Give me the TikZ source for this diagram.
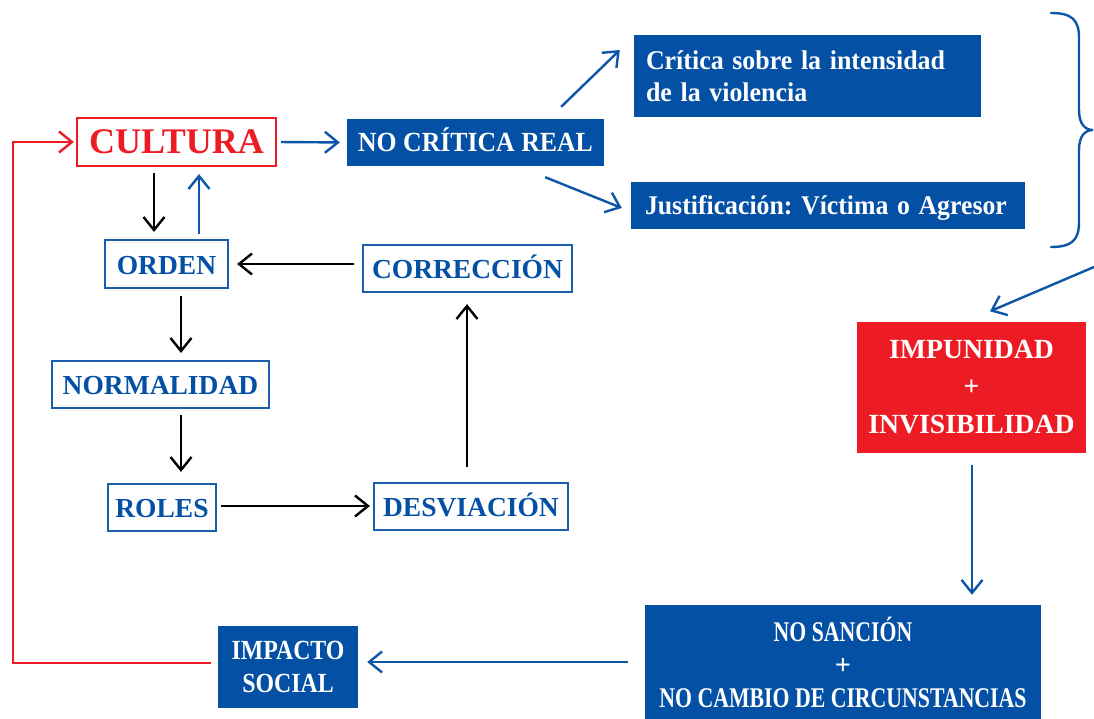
\documentclass[tikz,border=0pt]{standalone}
\usepackage{fontspec}
\usepackage{graphicx}
\setmainfont{Liberation Serif}
\usetikzlibrary{arrows.meta,calc}
\definecolor{myblue}{HTML}{0450A4}
\definecolor{bblue}{HTML}{1C5EAE}
\definecolor{lblue}{HTML}{0D56A7}
\definecolor{myred}{HTML}{ED1C24}
\frenchspacing
\begin{document}
\begin{tikzpicture}[x=1pt,y=-1pt,
  bbox/.style={draw=bblue,line width=2.2pt,text=myblue,inner sep=0pt,minimum height=47pt,
    text height=20pt,text depth=0pt,
    font=\bfseries\fontsize{27.5pt}{33pt}\selectfont},
  fbox/.style={fill=myblue,text=white,inner sep=0pt,align=center,
    font=\bfseries\fontsize{27.7pt}{33pt}\selectfont},
  arr/.style={line width=2.4pt,-{Straight Barb[length=13pt,width=21pt]}},
  karr/.style={arr,draw=black},
  barr/.style={arr,draw=lblue},
  rarr/.style={arr,draw=myred},
  bracepath/.style={draw=lblue,line width=2.4pt,line cap=round}
]
\useasboundingbox (0,0) rectangle (1094,719);

% nodes
\node[bbox,draw=myred,text=myred,minimum width=199pt,minimum height=48pt,
  text height=24pt,font=\bfseries\fontsize{36pt}{40pt}\selectfont] (cult) at (176.5,142) {CULTURA};
\node[fbox,minimum width=257pt,minimum height=47pt,text height=18.5pt,text depth=0pt] (ncr) at (475.5,142.5)
  {\scalebox{0.93}[1]{NO CRÍTICA REAL}};
\node[fbox,align=left,text width=323pt,inner xsep=12pt,minimum height=82pt,
  font=\bfseries\fontsize{27pt}{32pt}\selectfont] (crit) at (807.5,76)
  {\scalebox{0.96}[1]{Crítica sobre la intensidad}\\\scalebox{0.96}[1]{de la violencia}};
\node[fbox,align=left,text width=366pt,inner xsep=14pt,minimum height=47pt,
  text height=18.5pt,text depth=0pt,
  font=\bfseries\fontsize{27pt}{32pt}\selectfont] (just) at (828,205.5)
  {\scalebox{0.955}[1]{Justificación: Víctima o Agresor}};

\node[bbox,minimum width=123pt,minimum height=48pt] (orden) at (166.5,264) {ORDEN};
\node[bbox,minimum width=209pt] (corr) at (467.5,268.5) {CORRECCIÓN};
\node[bbox,minimum width=217pt] (norm) at (160.5,384.5) {NORMALIDAD};
\node[bbox,minimum width=108pt] (roles) at (162,507.5) {ROLES};
\node[bbox,minimum width=194pt] (desv) at (471,506.5) {DESVIACIÓN};

\node[fbox,fill=myred,minimum width=229pt,minimum height=131pt,
  font=\bfseries\fontsize{27.7pt}{37.5pt}\selectfont] (imp) at (971.5,387)
  {IMPUNIDAD\\+\\INVISIBILIDAD};
\node[fbox,minimum width=396pt,minimum height=115pt,
  font=\bfseries\fontsize{28.5pt}{33pt}\selectfont] (nos) at (843,662.5)
  {\scalebox{0.765}[1]{NO SANCIÓN}\\+\\\scalebox{0.765}[1]{NO CAMBIO DE CIRCUNSTANCIAS}};
\node[fbox,minimum width=140pt,minimum height=82pt] (impac) at (288,667)
  {\scalebox{0.86}[1]{IMPACTO}\\\scalebox{0.86}[1]{SOCIAL}};

% brace
\draw[bracepath] (1051,13) .. controls (1072,13) and (1079,20) .. (1079,38)
  -- (1079,110) .. controls (1079,124) and (1085,130) .. (1093,130)
  .. controls (1085,130) and (1079,136) .. (1079,150)
  -- (1079,222) .. controls (1079,240) and (1072,247) .. (1051,247);

% coordinates
\coordinate (x154) at (154,0);
\coordinate (x199) at (199,0);
\coordinate (x181) at (181,0);
\coordinate (x467) at (467,0);
\coordinate (x972) at (972,0);
\coordinate (y506) at (0,506);
\coordinate (y662) at (0,662);
\coordinate (rc) at (13,142);
\coordinate (bt) at (1094,267);

% connectors
\draw[karr,shorten <=6pt,shorten >=7pt] (cult.south -| x154) -- (orden.north -| x154);
\draw[barr,shorten <=5pt,shorten >=7pt] (orden.north -| x199) -- (cult.south -| x199);
\draw[barr,shorten <=4pt,shorten >=7pt] (cult.east) -- (ncr.west);
\draw[barr] ([shift={(-43pt,12pt)}]ncr.north east) -- ([shift={(-14pt,26pt)}]crit.west);
\draw[barr] ([shift={(-59pt,-11pt)}]ncr.south east) -- ([shift={(-9pt,-2.5pt)}]just.west);
\draw[karr,shorten <=8pt,shorten >=8pt] (corr.west |- orden.east) -- (orden.east);
\draw[karr,shorten <=7pt,shorten >=7pt] (orden.south -| x181) -- (norm.north -| x181);
\draw[karr,shorten <=6pt,shorten >=11pt] (norm.south -| x181) -- (roles.north -| x181);
\draw[karr,shorten <=4pt,shorten >=3pt] (roles.east |- y506) -- (desv.west |- y506);
\draw[karr,shorten <=15pt,shorten >=11pt] (desv.north -| x467) -- (corr.south -| x467);
\draw[barr] (bt) -- ([shift={(18.5pt,10pt)}]imp.north);
\draw[barr,shorten <=12pt,shorten >=10pt] (imp.south -| x972) -- (nos.north -| x972);
\draw[barr,shorten <=17pt,shorten >=9pt] (nos.west |- y662) -- (impac.east |- y662);
\draw[rarr,shorten >=2pt] ([shift={(-7pt,4pt)}]impac.west) -| (rc) -- (cult.west |- rc);
\end{tikzpicture}
\end{document}
